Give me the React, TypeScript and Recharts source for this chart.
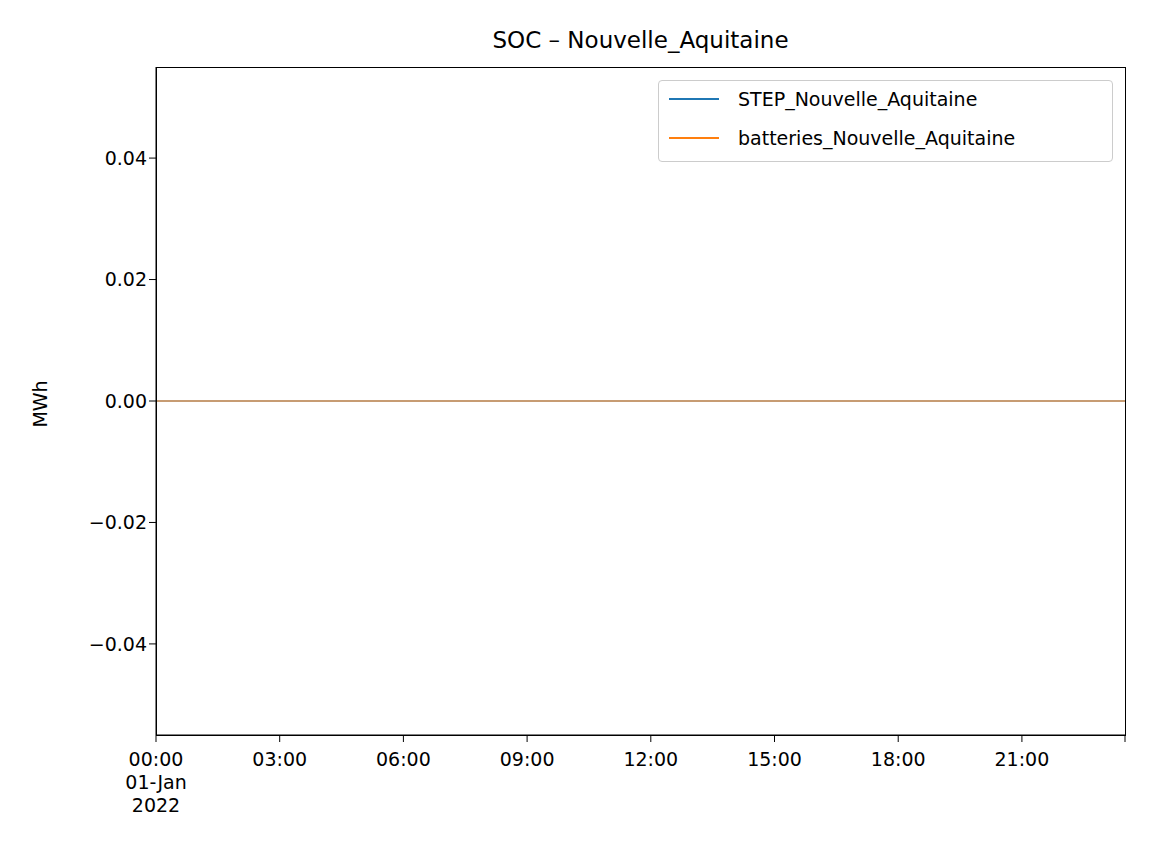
import { LineChart, Line, XAxis, YAxis } from "recharts";

const hours = [
  0, 0.5, 1, 1.5, 2, 2.5, 3, 3.5, 4, 4.5, 5, 5.5, 6, 6.5, 7, 7.5, 8, 8.5, 9, 9.5, 10, 10.5, 11, 11.5,
  12, 12.5, 13, 13.5, 14, 14.5, 15, 15.5, 16, 16.5, 17, 17.5, 18, 18.5, 19, 19.5, 20, 20.5, 21, 21.5,
  22, 22.5, 23, 23.5,
];
const stepSoc = [
  0, 0, 0, 0, 0, 0, 0, 0, 0, 0, 0, 0, 0, 0, 0, 0, 0, 0, 0, 0, 0, 0, 0, 0,
  0, 0, 0, 0, 0, 0, 0, 0, 0, 0, 0, 0, 0, 0, 0, 0, 0, 0, 0, 0, 0, 0, 0, 0,
];
const batteriesSoc = [
  0, 0, 0, 0, 0, 0, 0, 0, 0, 0, 0, 0, 0, 0, 0, 0, 0, 0, 0, 0, 0, 0, 0, 0,
  0, 0, 0, 0, 0, 0, 0, 0, 0, 0, 0, 0, 0, 0, 0, 0, 0, 0, 0, 0, 0, 0, 0, 0,
];
const xTicks = [0, 3, 6, 9, 12, 15, 18, 21, 23.5];
const yTicks = [-0.04, -0.02, 0, 0.02, 0.04];

const data = hours.map((t, i) => ({ t, step: stepSoc[i], bat: batteriesSoc[i] }));

const font = "'DejaVu Sans', sans-serif";

const XTick = (props: any) => {
  const { x, y, payload } = props;
  const v = payload.value;
  if (v > 23) return <g />;
  const hh = String(v).padStart(2, "0") + ":00";
  const lines = v === 0 ? [hh, "01-Jan", "2022"] : [hh];
  return (
    <text x={x} y={y + 3} textAnchor="middle" fontSize={19} fill="#000" fontFamily={font}>
      {lines.map((l, i) => (
        <tspan key={i} x={x} dy={i === 0 ? 19 : 23}>
          {l}
        </tspan>
      ))}
    </text>
  );
};

const fmtY = (v: number) => (v < 0 ? "\u2212" + (-v).toFixed(2) : v.toFixed(2));

export default function App() {
  return (
    <div style={{ position: "relative", width: 1152, height: 864, margin: -8, background: "#fff", fontFamily: font }}>
      <div style={{ position: "absolute", top: 27, left: 156, width: 969, textAlign: "center", fontSize: 23 }}>
        SOC – Nouvelle_Aquitaine
      </div>
      <div
        style={{
          position: "absolute",
          left: 40,
          top: 404,
          fontSize: 19,
          transform: "translate(-50%, -50%) rotate(-90deg)",
          whiteSpace: "nowrap",
        }}
      >
        MWh
      </div>
      <LineChart width={1152} height={864} data={data} margin={{ top: 67, right: 27, bottom: 0, left: 0 }}>
        <XAxis
          dataKey="t"
          type="number"
          domain={[0, 23.5]}
          ticks={xTicks}
          interval={0}
          tick={<XTick />}
          tickSize={7}
          axisLine={{ stroke: "#000" }}
          tickLine={{ stroke: "#000" }}
          height={129}
        />
        <YAxis
          type="number"
          domain={[-0.055, 0.055]}
          ticks={yTicks}
          interval={0}
          tickFormatter={fmtY}
          width={156}
          tickSize={7}
          tick={{ fontSize: 19, fill: "#000", fontFamily: font }}
          axisLine={{ stroke: "#000" }}
          tickLine={{ stroke: "#000" }}
        />
        <Line dataKey="step" stroke="#1f77b4" strokeWidth={1.2} dot={false} isAnimationActive={false} />
        <Line dataKey="bat" stroke="#ff7f0e" strokeWidth={1.2} dot={false} isAnimationActive={false} />
      </LineChart>
      <div style={{ position: "absolute", left: 156, top: 67, width: 968, height: 667, border: "1px solid #000", pointerEvents: "none" }} />
      <div
        style={{
          position: "absolute",
          left: 658,
          top: 80,
          width: 453,
          height: 80,
          border: "1px solid #ccc",
          borderRadius: 4,
          background: "rgba(255,255,255,0.8)",
          fontSize: 19,
        }}
      >
        {[
          ["#1f77b4", "STEP_Nouvelle_Aquitaine", 18],
          ["#ff7f0e", "batteries_Nouvelle_Aquitaine", 57],
        ].map(([c, label, top]) => (
          <div key={label as string} style={{ position: "absolute", left: 10, top: (top as number) - 12, display: "flex", alignItems: "center", height: 24 }}>
            <div style={{ width: 50, height: 1.2, background: c as string }} />
            <span style={{ marginLeft: 19 }}>{label}</span>
          </div>
        ))}
      </div>
    </div>
  );
}
